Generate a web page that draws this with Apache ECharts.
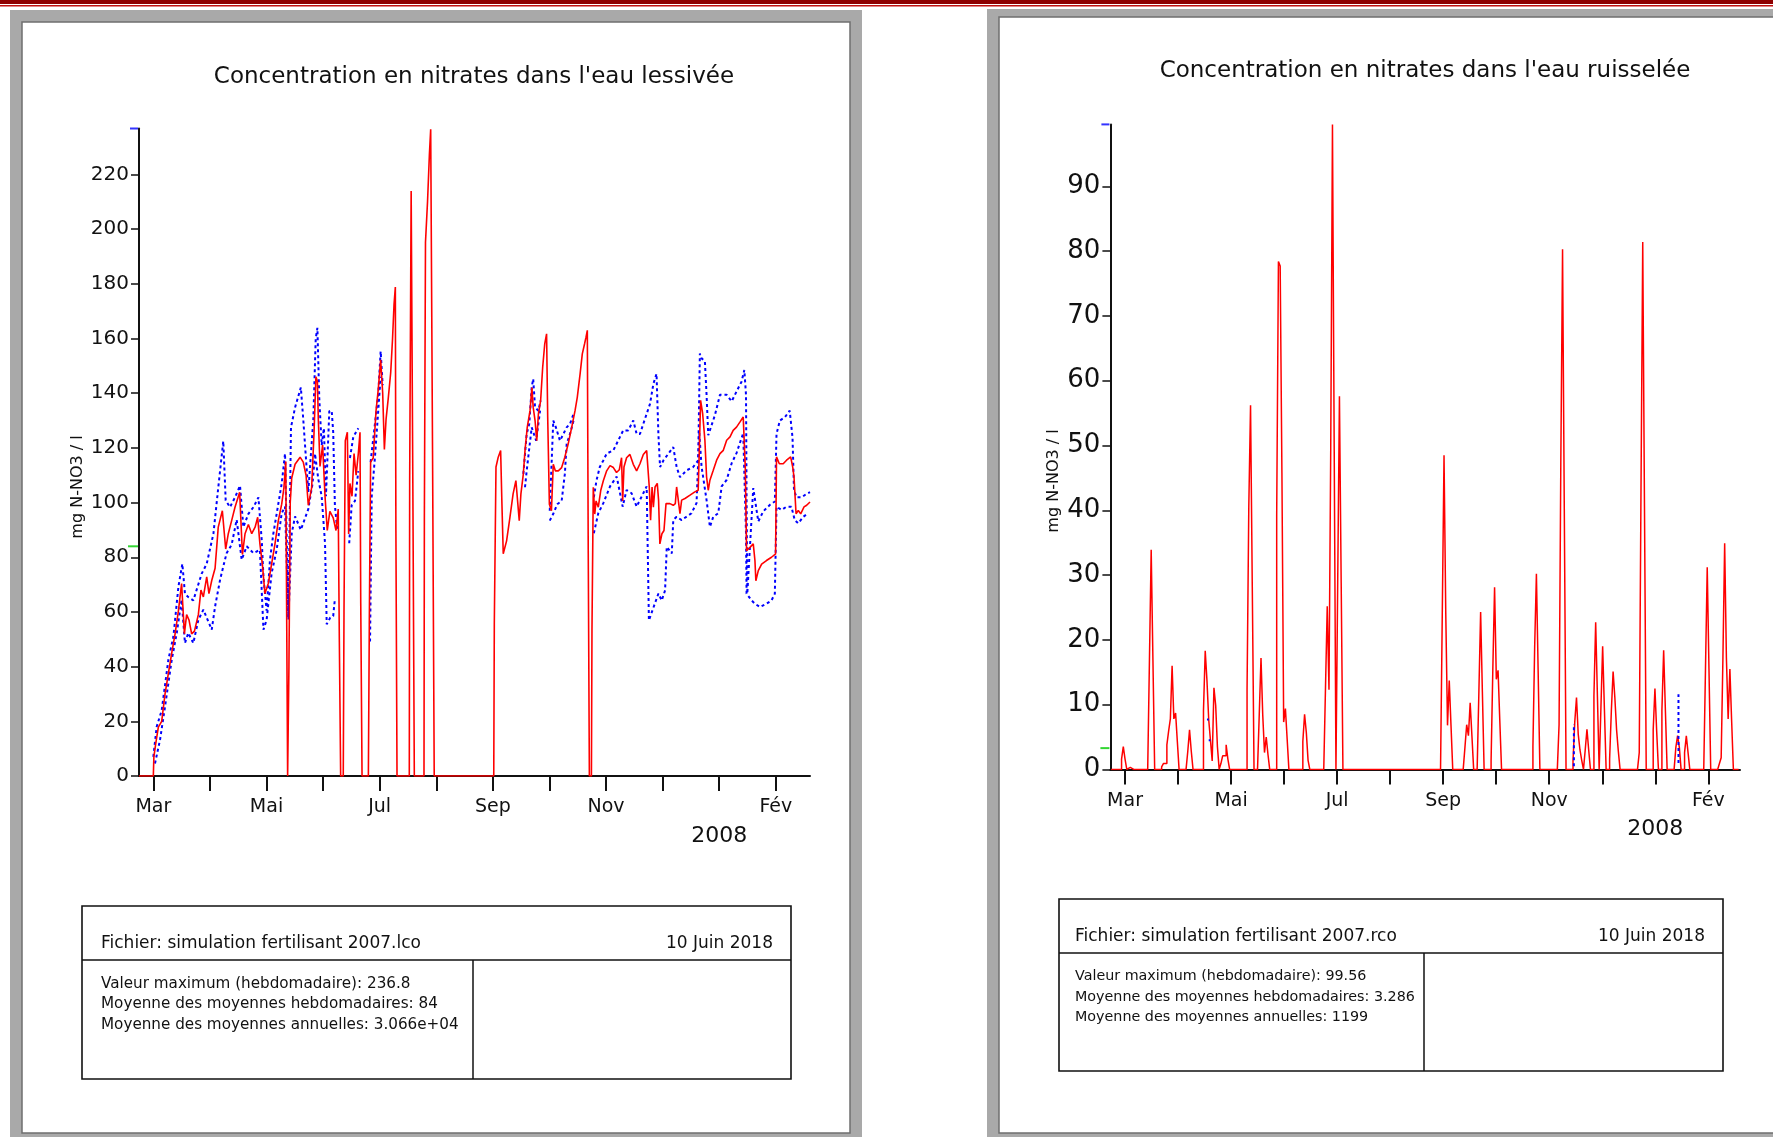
<!DOCTYPE html>
<html>
<head>
<meta charset="utf-8">
<title>Concentration en nitrates</title>
<script src="https://cdn.jsdelivr.net/npm/echarts@6.0.0/dist/echarts.min.js"></script>
<style>
  html, body { margin: 0; padding: 0; background: #fff; }
  #chart { width: 1773px; height: 1137px; }
</style>
</head>
<body>
<div id="chart"></div>
<script>
// axe des dates : jours depuis le 1er mars 2007, un mois = 30.42 jours
const DPM = 30.42
const moisLabels = ['Mar', '', 'Mai', '', 'Jul', '', 'Sep', '', 'Nov', '', '2008', 'Fév']
const moisAvecLabel = [0, 2, 4, 6, 8, 10, 11]
const yTicksLess = [0, 20, 40, 60, 80, 100, 120, 140, 160, 180, 200, 220]
const yTicksRuis = [0, 10, 20, 30, 40, 50, 60, 70, 80, 90]

// valeurs du cartouche
const maxLess = 236.8
const moyLess = 84
const maxRuis = 99.56
const moyRuis = 3.286

// eau lessivée : courbe rouge [jour, mg/l]
const redLess = [
  [-7.7, 0], [0, 0], [0.3, 7], [1.3, 11.8], [2.7, 17.9], [4.5, 20], [6.3, 30], [8.1, 37.5], [9.9, 45], [11.7, 52],
  [13.5, 60.5], [15.2, 70.4], [16.7, 52], [17.9, 59], [19.2, 57], [20.6, 52], [22.1, 53], [24.2, 59], [25.6, 68],
  [26.9, 65.5], [28.7, 72.8], [29.9, 66.7], [31.4, 71.5], [33.2, 76], [34.9, 91], [37.1, 97], [38.9, 83], [40.3, 88.6],
  [42.1, 93.4], [43.9, 98.3], [46.4, 103.8], [47.9, 81], [49.3, 88.6], [51.1, 92], [52.9, 88.6], [54.7, 91], [56.1, 94.6],
  [57.3, 84.9], [58.6, 77.6], [60, 66.7], [61.8, 70.4], [63.6, 77.6], [65.4, 84.9], [67.2, 93.4], [69, 99.4], [70.2, 105.4],
  [71.2, 115], [71.7, 57], [72.2, 0], [72.6, 0], [72.9, 40], [73.6, 100], [74.4, 109], [76.2, 114], [78.9, 116.6],
  [80.6, 114.8], [82.1, 110], [83.3, 99], [85.1, 105.4], [86.4, 125.7], [87.4, 146], [88.2, 144.4], [88.7, 130.4],
  [89.6, 113.2], [91, 121], [92.3, 102.3], [93.5, 89.8], [94.9, 96.8], [96.7, 94.4], [98.2, 89.8], [99.4, 97.6],
  [100, 49.2], [100.7, 0], [102.1, 0], [102.5, 60], [103.2, 122.6], [104.3, 125.7], [105, 88.5], [105.7, 107],
  [106.8, 102.3], [107.9, 117.9], [109, 110], [110.2, 117.9], [111.1, 125.7], [111.5, 63.2], [112.2, 0], [115.6, 0],
  [116.1, 55.5], [116.8, 114.8], [118.2, 116.3], [119.7, 133.5], [120.9, 141.3], [122.2, 152.2], [123.3, 140],
  [124.2, 119.4], [125.1, 130.4], [126.3, 138.2], [127.6, 147.5], [128.6, 160], [129.4, 172.5], [130.1, 178.8],
  [130.4, 89.8], [131, 0], [137.6, 0], [137.8, 107], [138.5, 107], [138.6, 213.9], [139.4, 213.9], [139.5, 107],
  [140.1, 107], [140.3, 0], [145.5, 0], [145.7, 93.7], [146.2, 93.7], [146.3, 195.2], [147.3, 195.2], [147.4, 210],
  [148.3, 210], [148.4, 227.2], [149, 227.2], [149.1, 236.5], [150, 236.5], [150.1, 117.9], [150.9, 117.9], [151, 0],
  [183, 0], [183.3, 55.7],
  [184.2, 113], [185.4, 116.6], [186.7, 119], [187.4, 99.4], [188.1, 81.3], [189.9, 86], [191.7, 94.6], [193.4, 103.2],
  [194.9, 108], [196.7, 93.4], [197.6, 103.2], [198.9, 110.5], [199.8, 119], [201, 127.5], [202.5, 133.6], [203.5, 142.1],
  [204.2, 134.8], [205.2, 130], [206.1, 122.6], [207, 132.4], [208.2, 137.3], [209.3, 149.5], [210.4, 158], [211.4, 161.7],
  [212, 131.2], [212.9, 99.4], [214, 97], [215, 114], [216.1, 111.6], [217.7, 111.6], [219.5, 112.8], [221.2, 116.6],
  [223, 121.4], [224.9, 127.5], [226.7, 133.6], [227.9, 138.5], [229.4, 147], [230.6, 154.4], [231.8, 158], [232.6, 160.5],
  [233.3, 163], [233.8, 81.3], [234.4, 0], [235.5, 0], [235.8, 53.2], [236.5, 105.6], [237.3, 95.8], [238, 100.6],
  [239.2, 98.3], [240.5, 104.4], [241.9, 108], [243.7, 111.6], [245.5, 113.5], [247.3, 112.8], [249, 111], [250.5, 112],
  [251.7, 116.4], [252.3, 100.6], [253, 113], [254.4, 116.4], [256.2, 117.6], [258, 114], [259.8, 111.6], [261.6, 114.2],
  [263.4, 117.6], [265.2, 119], [266.1, 119.1], [266.6, 105.7], [267.3, 93.5], [268.1, 105.7], [268.8, 98.3],
  [269.7, 105.7], [270.9, 107], [271.6, 100.9], [272.3, 84.9], [273.4, 88.6], [274.5, 89.8], [275.6, 99.6], [277.7, 99.6],
  [279.5, 99], [280.6, 99.6], [281.3, 105.7], [282, 102], [283.1, 95.9], [284, 100.9], [285.8, 101.5], [288.5, 102.7],
  [291.1, 103.9], [292.9, 104.5], [293.5, 119.1], [294.2, 137.4], [295.3, 132.5], [296.5, 122.8], [297.4, 109.4],
  [298.3, 104.5], [299.2, 108.2], [301, 111.8], [302.8, 115.5], [304.6, 117.9], [306.4, 119.1], [308.2, 122.8], [310, 124],
  [311.7, 126.4], [313.5, 127.6], [315.3, 129.4], [317.1, 131.3], [317.7, 132], [318.2, 113], [318.9, 82.4], [320.7, 83.6],
  [322.5, 84.9], [323.4, 78.8], [323.9, 71.4], [325.2, 75.1], [327, 77.5], [329.6, 78.8], [332.3, 80], [334.5, 81.2],
  [335, 116.7], [336.5, 114.2], [338.6, 114.2], [340.4, 115.5], [342.6, 116.7], [343.7, 113], [344.4, 109.4], [345.5, 95.9],
  [346.7, 97.1], [348, 95.9], [349.8, 98.4], [351.2, 99], [353, 100.2]
]

// enveloppes bleues (pointillés), '-' = interruption
const hautLess = [
  [0, 7], [1.8, 18], [4.5, 24], [8.1, 42.6], [10.8, 51], [13.5, 69.3], [15.6, 77.6], [17, 66.7], [18.8, 65.4], [21.5, 64.2],
  [26, 74], [28.7, 77.6], [32.3, 88.6], [34.9, 105.4], [37.6, 122.5], [38.9, 100.8], [41.2, 98.3], [43.9, 101.9],
  [46.6, 106.2], [48.4, 91], [51.1, 95.9], [53.8, 98.3], [56.5, 101.9], [58.3, 86], [59.2, 72.8], [60.9, 60.5], [62.7, 79],
  [64.5, 88.6], [66.3, 95.9], [69, 106.9], [70.8, 117.9], [72.6, 58], [74, 127.5], [76.2, 134.8], [79.3, 142.1],
  [80.6, 130.4], [83.3, 103.8], [86, 130.4], [87.3, 160], [88.2, 163.9], [89.2, 138.2], [90.5, 121], [91.7, 127.2],
  [92.8, 102.3], [94.6, 133.5], [95.9, 133.5], [96.7, 125.7], [97.6, 99], [98.9, 89.8], [99.5, '-'],
  [105.7, 116.3], [107.5, 124], [110.2, 127.2], [110.8, '-'],
  [116.8, 114.8], [119.1, 128.6], [120.9, 139.6], [122.2, 155.3], [123.3, 142.9], [124, '-'],
  [198.9, 110.5], [200.7, 125.1], [202.1, 128.8], [203.4, 142.2], [204.2, 145.2], [205.2, 134.8], [207, 133.6],
  [208.2, 137.3], [209, '-'],
  [213.1, 97], [215, 130], [216.4, 127.5], [218.6, 122.6], [222.2, 127.5], [224, 128.8], [225.9, 132.4], [226.5, '-'],
  [236.8, 101.9], [238.2, 108], [240, 113], [241.9, 115.4], [243.7, 117.9], [247.3, 119.1], [252.6, 126.4], [255.3, 126.4],
  [258, 130], [259.8, 125.1], [261.6, 125.1], [263.4, 128.8], [267, 136.1], [268.8, 143.4], [270.5, 147.1], [271.5, 125.1],
  [272.4, 113], [274.2, 115.4], [279.5, 120.3], [281.3, 113], [283.1, 109.3], [286.7, 111.8], [290.2, 113], [292.9, 115.4],
  [293.8, 154.5], [294.7, 152.8], [296.5, 151.6], [297.4, 139.4], [298.3, 124.6], [300.1, 128.3], [301.9, 132],
  [304.6, 139.4], [308.2, 139.4], [310.9, 137], [313.5, 140.6], [316.2, 144.2], [317.7, 148.5], [318.6, 139.4],
  [318.9, 102.9], [319.3, 66.7], [322.5, 105.3], [325.2, 93.1], [327.9, 96.8], [331.5, 99.2], [334.1, 100.4], [335, 125.1],
  [336.8, 130], [339.5, 131.2], [342.1, 133.6], [343.6, 123.8], [344.4, 104.4], [345.8, 101.9], [348.5, 101.9],
  [351.2, 103.2], [353, 103.8]
]
const basLess = [
  [0.9, 4.6], [3.6, 13.2], [6.3, 25.4], [9.9, 42.5], [12.6, 52.3], [15.2, 64.5], [17, 48.6], [18.8, 52.3], [21.5, 48.6],
  [24.2, 57.1], [26.9, 60.8], [31.4, 53.5], [33.2, 62], [35.9, 71.8], [37.6, 76.6], [39.4, 81.5], [42.1, 84.6], [44.8, 93.7],
  [47.5, 79.1], [50.2, 84], [53.8, 81.5], [57.3, 82.7], [59.2, 53.5], [60.9, 57.1], [63.6, 74.2], [66.3, 82.7], [69, 96.1],
  [70.8, 98.5], [72.6, 57.1], [74.4, 88.8], [76.2, 94.9], [79.3, 90], [83.3, 97.6], [85.6, 107], [86.9, 117.9],
  [88.7, 108.5], [90.5, 102.3], [92.3, 85.1], [93.2, 55.5], [95, 57.8], [96.7, 58.5], [97.6, 64.8], [98, '-'],
  [105.3, 85.1], [106.6, 99], [108.4, 100.6], [110.2, 111.5], [110.8, '-'],
  [116.5, 49.2], [117.4, 102.3], [119.1, 116.3], [120.9, 133.5], [122.2, 146], [123, '-'],
  [199.8, 105.6], [200.7, 111.6], [203.4, 127.5], [205.8, 122.6], [207.9, 133.6], [208.5, '-'],
  [213.1, 93.4], [215, 95.9], [217.1, 99.4], [219.5, 100.6], [221.2, 110.4], [222.2, 121.4], [224, 125.1], [225.9, 130],
  [226.5, '-'],
  [236.8, 88.8], [239.2, 96.1], [241.9, 99.8], [245.5, 105.9], [249.1, 109.5], [252.3, 98.5], [254.4, 104.6],
  [257.1, 103.4], [259.8, 98.5], [262.5, 102.2], [265.2, 105.9], [266.4, 56.9], [271.5, 66.7], [273.3, 64.2],
  [275.1, 67.9], [276, 83.8], [278.7, 81.4], [279.5, 93.6], [281.3, 94.8], [284, 93.6], [289.3, 96.1], [292, 99.8],
  [293.5, 125.4], [294.7, 113.2], [297.4, 100.9], [299.2, 91.1], [301, 94.8], [303.7, 96.1], [305.5, 105.9], [308.2, 108.3],
  [310.9, 114.4], [313.5, 118.1], [317.1, 125.4], [318.6, 88.8], [318.9, 66.7], [321.6, 64.2], [323.4, 63], [326.1, 61.8],
  [329.6, 63], [332.3, 64.2], [334.1, 66.7], [335, 98.5], [337.7, 97.3], [340.4, 98.5], [343, 98.5], [344.8, 93.6],
  [346.7, 92.4], [349.4, 94.8], [352.1, 96.1]
]

// eau ruisselée : jours non nuls [jour, mg/l], les autres jours valent 0
const picsRuis = [
  [-2, 1.6], [-1, 3.5], [0, 1.6], [2, 0.3], [14, 16.9], [15, 33.9], [16, 16.9], [19, 0.2], [21, 0.4], [22, 0.9], [23, 0.9],
  [24, 3.8], [25, 5.9], [26, 7.8], [27, 16], [28, 7.8], [29, 8.7], [30, 4.3], [36, 2.8], [37, 6.1], [38, 2.8],
  [45, 9.1], [46, 18.3], [47, 13.7], [48, 7.7], [49, 4.5], [50, 1.3], [51, 12.6], [52, 9.9], [53, 3.5],
  [55, 0.9], [56, 2.1], [57, 2.1], [58, 3.8], [59, 1.6], [70, 12.3], [71, 40.6], [72, 56.2], [73, 28.1],
  [77, 8.5], [78, 17.2], [79, 8.4], [80, 2.6], [81, 5], [82, 2.3], [87, 39.2], [88, 78.4], [89, 77.7], [90, 45.8],
  [91, 7.3], [92, 9.4], [93, 4.7], [102, 4.3], [103, 8.5], [104, 5.7], [105, 1.4],
  [115, 12.6], [116, 25.2], [117, 12.3], [118, 49.3], [119, 99.56], [120, 49.3], [122, 28.8], [123, 57.6], [124, 28.8],
  [182, 24.1], [183, 48.5], [184, 24.1], [185, 6.8], [186, 13.7], [187, 6.8], [195, 3.4], [196, 6.9], [197, 5.2],
  [198, 10.3], [199, 5.2], [203, 12], [204, 24.3], [205, 12], [210, 1.3], [211, 15.5], [212, 28.1], [213, 13.9],
  [214, 15.3], [215, 7.5], [234, 3.5], [235, 18.9], [236, 30.2], [237, 15.1], [249, 6.9], [250, 47.2], [251, 80.3],
  [252, 40.1], [257, 1.3], [258, 7.3], [259, 11.1], [260, 5.4], [261, 3], [262, 1.4], [264, 3], [265, 6.2], [266, 3],
  [269, 11.3], [270, 22.7], [271, 11.3], [273, 9.4], [274, 19], [275, 9.4], [278, 1.6], [279, 9.1], [280, 15.1],
  [281, 11.1], [282, 6.1], [283, 2.8], [295, 2.6], [296, 43.1], [297, 81.4], [298, 40.6], [303, 6.1], [304, 12.5],
  [305, 5.9], [308, 9.1], [309, 18.4], [310, 9.1], [316, 3.4], [317, 5.2], [318, 3.4], [321, 2.6], [322, 5.2], [323, 2.6],
  [333, 15.5], [334, 31.2], [335, 15.5], [341, 0.9], [342, 1.8], [343, 17.2], [344, 34.9], [345, 17.2], [346, 7.8],
  [347, 15.5], [348, 7.5]
]
const bleuRuis = [
  [47, 7.7], [48, 7.7], [48, '-'], [48, 4.5], [49, 4.5], [49, '-'],
  [257.5, 0.5], [257.5, 7], [257.6, '-'], [317.5, 1], [317.5, 11.6]
]

const FONT = '"DejaVu Sans", sans-serif'
const INK = '#111'

// jours -8 .. 352 : 0 sauf les pics relevés
const picMap = {}
picsRuis.forEach(p => { picMap[p[0]] = p[1] })
const ruisData = []
for (let d = -8; d <= 352; d++) {
  ruisData.push([d, picMap[d] || 0])
}

const monthTicks = moisLabels.map((m, i) => i * DPM)
const labelTicks = moisAvecLabel.map(i => i * DPM)

function xAxisCfg (gridIndex, min, max, fontSize) {
  return {
    type: 'value',
    gridIndex: gridIndex,
    min: min,
    max: max,
    splitLine: { show: false },
    axisLine: { onZero: false, lineStyle: { color: INK, width: 2 } },
    axisTick: { show: true, length: 15, customValues: monthTicks, lineStyle: { color: INK, width: 2 } },
    axisLabel: {
      customValues: labelTicks,
      margin: 22,
      fontFamily: FONT,
      fontSize: fontSize,
      color: INK,
      formatter: v => {
        const i = Math.round(v / DPM)
        return i === 10 ? '{yr|' + moisLabels[i] + '}' : moisLabels[i]
      },
      rich: { yr: { fontFamily: FONT, fontSize: 22, color: INK, padding: [27, 0, 0, 0] } }
    }
  }
}

function yAxisCfg (gridIndex, max, ticks, fontSize) {
  return {
    type: 'value',
    gridIndex: gridIndex,
    min: 0,
    max: max,
    splitLine: { show: false },
    axisLine: { show: true, onZero: false, lineStyle: { color: INK, width: 2 } },
    axisTick: { show: true, length: 8, customValues: ticks, lineStyle: { color: INK, width: 1.5 } },
    axisLabel: { customValues: ticks, margin: 10, fontFamily: FONT, fontSize: fontSize, color: INK }
  }
}

function marque (xi, yi, xmin, val, color, w) {
  return {
    type: 'scatter', xAxisIndex: xi, yAxisIndex: yi, silent: true, clip: false, z: 5,
    symbol: 'rect', symbolSize: [w, 2], symbolOffset: [-w / 2 - 1, 0],
    itemStyle: { color: color }, data: [[xmin, val]]
  }
}

function txt (x, y, text, size, align, extra) {
  return Object.assign({
    type: 'text', x: x, y: y, z: 10,
    style: { text: text, font: size + 'px ' + FONT, fill: INK, align: align || 'left', verticalAlign: 'middle' }
  }, extra || {})
}

function ligne (x1, y1, x2, y2, w) {
  return { type: 'line', z: 10, shape: { x1: x1, y1: y1, x2: x2, y2: y2 }, style: { stroke: INK, lineWidth: w || 1.5 } }
}

function cadre (x, y, w, h) {
  return { type: 'rect', z: 10, shape: { x: x, y: y, width: w, height: h }, style: { fill: null, stroke: INK, lineWidth: 1.6 } }
}

const decor = [
  // bandeau rouge en haut
  { type: 'rect', z: -10, shape: { x: 0, y: 0, width: 1773, height: 4 }, style: { fill: '#8e0000' } },
  { type: 'rect', z: -10, shape: { x: 0, y: 5, width: 1773, height: 1.5 }, style: { fill: '#c01010' } },
  // fenêtres grises
  { type: 'rect', z: -10, shape: { x: 10, y: 10, width: 852, height: 1130 }, style: { fill: '#a9a9a9' } },
  { type: 'rect', z: -9, shape: { x: 22, y: 22, width: 828, height: 1111 }, style: { fill: '#fff', stroke: '#6f6f6f', lineWidth: 1.5 } },
  { type: 'rect', z: -10, shape: { x: 987, y: 9, width: 800, height: 1130 }, style: { fill: '#a9a9a9' } },
  { type: 'rect', z: -9, shape: { x: 999, y: 17, width: 800, height: 1116 }, style: { fill: '#fff', stroke: '#6f6f6f', lineWidth: 1.5 } },
  // titres et noms d'axes
  txt(474, 77, "Concentration en nitrates dans l'eau lessivée", 23, 'center'),
  txt(1425, 71, "Concentration en nitrates dans l'eau ruisselée", 23, 'center'),
  txt(78, 487, 'mg N-NO3 / l', 16, 'center', { rotation: Math.PI / 2 }),
  txt(1054, 481, 'mg N-NO3 / l', 16, 'center', { rotation: Math.PI / 2 }),
  // cartouche gauche
  cadre(82, 906, 709, 173),
  ligne(82, 960, 791, 960),
  ligne(473, 960, 473, 1079),
  txt(101, 944, 'Fichier: simulation fertilisant 2007.lco', 17),
  txt(773, 944, '10 Juin 2018', 17, 'right'),
  txt(101, 984, 'Valeur maximum (hebdomadaire): ' + maxLess, 15.2),
  txt(101, 1004.5, 'Moyenne des moyennes hebdomadaires: ' + moyLess, 15.2),
  txt(101, 1025.5, 'Moyenne des moyennes annuelles: 3.066e+04', 15.2),
  // cartouche droite
  cadre(1059, 899, 664, 172),
  ligne(1059, 953, 1723, 953),
  ligne(1424, 953, 1424, 1071),
  txt(1075, 937, 'Fichier: simulation fertilisant 2007.rco', 17),
  txt(1705, 937, '10 Juin 2018', 17, 'right'),
  txt(1075, 976, 'Valeur maximum (hebdomadaire): ' + maxRuis, 14.3),
  txt(1075, 997, 'Moyenne des moyennes hebdomadaires: ' + moyRuis, 14.3),
  txt(1075, 1017.5, 'Moyenne des moyennes annuelles: 1199', 14.3)
]

const minLess = -7.7
const maxJourLess = 353
const minRuis = -8.4
const maxJourRuis = 352.8

const option = {
  animation: false,
  backgroundColor: '#fff',
  graphic: { elements: decor },
  grid: [
    { left: 139, top: 128.5, width: 671, height: 647.5 },
    { left: 1110.4, top: 124.4, width: 629.6, height: 645 }
  ],
  xAxis: [
    xAxisCfg(0, minLess, maxJourLess, 19),
    xAxisCfg(1, minRuis, maxJourRuis, 19)
  ],
  yAxis: [
    yAxisCfg(0, maxLess, yTicksLess, 20),
    yAxisCfg(1, maxRuis, yTicksRuis, 26)
  ],
  series: [
    {
      type: 'line', xAxisIndex: 0, yAxisIndex: 0, data: hautLess, symbol: 'none', z: 3,
      lineStyle: { color: '#0000ff', width: 2, type: [3, 3] }
    },
    {
      type: 'line', xAxisIndex: 0, yAxisIndex: 0, data: basLess, symbol: 'none', z: 3,
      lineStyle: { color: '#0000ff', width: 2, type: [3, 3] }
    },
    {
      type: 'line', xAxisIndex: 0, yAxisIndex: 0, data: redLess, symbol: 'none', z: 4,
      lineStyle: { color: '#ff0000', width: 1.6 }
    },
    {
      type: 'line', xAxisIndex: 1, yAxisIndex: 1, data: ruisData, symbol: 'none', step: 'end', z: 4,
      lineStyle: { color: '#ff0000', width: 1.5 }
    },
    {
      type: 'line', xAxisIndex: 1, yAxisIndex: 1, data: bleuRuis, symbol: 'none', z: 5,
      lineStyle: { color: '#0000ff', width: 2, type: [3, 3] }
    },
    marque(0, 0, minLess, maxLess, '#0000ff', 8),
    marque(0, 0, minLess, moyLess, '#00cc00', 10),
    marque(1, 1, minRuis, maxRuis, '#0000ff', 8),
    marque(1, 1, minRuis, moyRuis, '#00cc00', 9)
  ]
}

const myChart = echarts.init(document.getElementById('chart'))
myChart.setOption(option)
</script>
</body>
</html>
